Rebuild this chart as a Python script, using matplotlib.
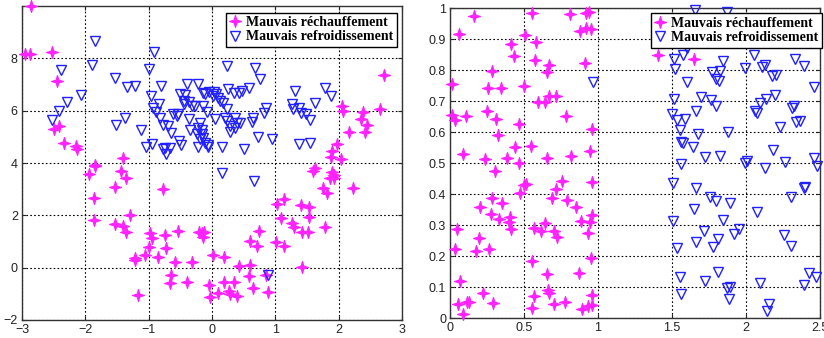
import matplotlib
matplotlib.use("Agg")
import matplotlib.pyplot as plt
from matplotlib.lines import Line2D
from matplotlib.path import Path

# ---------------- data: left panel ----------------
left_hot_x = [-2.86, -2.95, -2.87, -2.52, -2.44, -2.49, -2.41, -2.33, -2.14, -2.13,
              -1.85, -1.84, -1.94, -1.40, -1.44, -1.36, -1.53, -0.78, -1.87, -1.29, -1.87,
              -1.53, -1.41, -1.36, -1.21, -1.22, -1.17, -1.06, -0.99, -0.98, -0.95, -0.86,
              -0.75, -0.73, -0.53, -0.58, -0.64, -0.66, -0.39, -0.32, -0.21, -0.16, -0.13,
              -0.14, 0.02, 0.19, -0.04, -0.03, 0.10, 0.19, 0.29, 0.27, 0.35, 0.40, 0.43,
              0.60, 0.60, 0.59, 0.64, 0.71, 0.74, 0.88, 0.86, 1.01, 1.03, 1.14, 1.09, 1.14,
              1.26, 1.29, 1.40, 1.42, 1.51, 1.53, 1.53, 1.42, 1.78, 1.76, 1.82, 2.23, 1.63,
              1.60, 1.90, 1.92, 1.86, 1.93, 1.98, 1.90, 1.88, 2.03, 2.71, 2.05, 2.07, 2.38,
              2.35, 2.44, 2.42, 2.17, 2.65]
left_hot_y = [10.0, 8.15, 8.15, 8.23, 7.14, 5.31, 5.41, 4.77, 4.64, 4.54,
              3.94, 3.87, 3.58, 4.21, 3.68, 3.42, 3.08, 3.00, 2.66, 2.02, 1.83,
              1.68, 1.58, 1.36, 0.36, 0.29, -1.03, 0.49, 0.78, 1.32, 1.13, 0.42,
              1.26, 0.77, 1.41, 0.21, -0.28, -0.60, -0.56, 0.23, 1.38, 1.32, 1.36,
              1.19, 0.49, 0.42, -0.67, -1.12, -0.96, -0.54, -0.99, -0.90, -0.54, -1.09, 0.08,
              1.00, 0.10, -0.31, -0.79, 0.81, 1.41, -0.92, -0.28, 0.97, 2.44, 2.63, 1.90, 0.83,
              1.71, 1.54, 2.39, 1.35, 1.35, 2.31, 1.94, 0.04, 1.54, 3.04, 2.85, 3.04, 3.81,
              3.68, 3.64, 3.55, 3.42, 3.42, 4.74, 4.45, 4.22, 4.17, 7.37, 6.18, 5.99, 5.95,
              5.69, 5.44, 5.18, 5.19, 6.05]

left_cold_x = [-1.85, -1.90, -2.38, -2.07, -2.29, -2.42, -2.52,
               -1.53, -1.35, -1.21, -1.52, -1.37, -1.12,
               -0.91, -0.99, -0.97, -0.81, -0.83, -0.93, -0.88,
               -1.04, -0.95, -0.82, -0.78, -0.69, -0.65,
               -0.77, -0.74, -0.66, -0.72, -0.52, -0.49,
               -0.61, -0.53, -0.56, -0.40, -0.22,
               -0.51, -0.42, -0.44, -0.37, -0.32, -0.45, -0.37, -0.35,
               -0.27, -0.14, -0.08,
               -0.19, -0.22, -0.16, -0.24, -0.16, -0.14, -0.19, -0.11, -0.06, -0.07, -0.22,
               -0.14, -0.11, -0.04, 0.03, 0.07, 0.02, 0.10, 0.13, 0.17, 0.23,
               0.26, 0.34, 0.42, 0.47, 0.59, 0.23, 0.68, 0.75,
               0.05, 0.21, 0.23, 0.28, 0.36, 0.39, 0.44, 0.36, 0.28,
               0.64, 0.63, 0.85, 0.82, 0.73, 0.94, 0.51, 0.15,
               1.31, 1.26, 1.28, 1.37, 1.40, 1.49, 1.55, 1.63, 1.37, 1.55, 1.79, 1.88,
               0.15, 0.66, 0.88]
left_cold_y = [8.68, 7.76, 7.56, 6.60, 6.35, 5.99, 5.64,
               7.24, 6.90, 6.93, 5.47, 5.73, 5.26,
               8.23, 7.59, 6.56, 6.94, 6.24, 6.12, 5.96,
               4.60, 4.72, 5.73, 5.47, 5.41, 5.15,
               4.52, 4.58, 4.58, 4.36, 4.83, 4.70,
               5.86, 5.86, 5.79, 7.01, 7.01,
               6.63, 6.59, 6.37, 6.33, 6.18, 6.24, 5.67, 5.25,
               6.18, 6.18, 5.95,
               5.54, 5.35, 5.28, 5.09, 5.09, 4.96, 4.90, 4.77, 4.70, 4.62, 4.62,
               6.69, 6.63, 6.73, 6.73, 6.65, 6.56, 6.50, 6.37, 6.31, 6.05,
               6.82, 6.69, 6.69, 6.75, 6.88, 7.72, 7.62, 7.20,
               5.67, 5.73, 5.60, 5.41, 5.73, 5.54, 5.54, 5.35, 5.18,
               5.73, 5.56, 6.12, 5.92, 5.00, 4.90, 4.54, 4.62,
               6.77, 6.24, 6.05, 6.12, 5.92, 5.88, 5.64, 6.28, 4.71, 4.77, 6.88, 6.56,
               3.60, 3.33, -0.28]

# ---------------- data: right panel ----------------
right_hot_x = [0.158, 0.056, 0.011, 0.011, 0.029, 0.108, 0.084, 0.233, 0.255, 0.248,
               0.282, 0.312, 0.323, 0.346, 0.384, 0.411, 0.434, 0.436, 0.463, 0.463,
               0.508, 0.501, 0.553, 0.571, 0.580, 0.547, 0.592, 0.644, 0.716, 0.666,
               0.655, 0.655, 0.671, 0.786, 0.817, 0.813, 0.881, 0.910, 0.919, 0.919,
               0.942, 0.955, 0.960, 0.948, 1.405, 1.653,
               0.305, 0.203, 0.282, 0.350, 0.276, 0.327, 0.406, 0.400, 0.410, 0.474,
               0.497, 0.513, 0.192, 0.176, 0.260, 0.034, 0.045, 0.068, 0.050, 0.084,
               0.113, 0.129, 0.221, 0.289, 0.565, 0.617, 0.644, 0.553, 0.689, 0.716,
               0.757, 0.700, 0.720, 0.790, 0.853, 0.885, 0.933, 0.948, 0.960, 0.960,
               0.953, 0.655, 0.660, 0.666, 0.565, 0.553, 0.700, 0.779, 0.874, 0.892,
               0.933, 0.960, 0.960]
right_hot_y = [0.975, 0.917, 0.756, 0.656, 0.640, 0.654, 0.529, 0.514, 0.742, 0.670,
               0.798, 0.642, 0.591, 0.742, 0.516, 0.884, 0.846, 0.554, 0.626, 0.502,
               0.914, 0.749, 0.986, 0.833, 0.892, 0.557, 0.699, 0.699, 0.718, 0.718,
               0.516, 0.796, 0.817, 0.654, 0.524, 0.982, 0.927, 0.823, 0.935, 0.984,
               0.989, 0.933, 0.611, 0.540, 0.849, 0.835,
               0.475, 0.360, 0.387, 0.371, 0.335, 0.320, 0.328, 0.310, 0.288, 0.403,
               0.430, 0.433, 0.258, 0.217, 0.223, 0.223, 0.287, 0.120, 0.045, 0.013,
               0.054, 0.052, 0.083, 0.048, 0.290, 0.282, 0.309, 0.185, 0.389, 0.416,
               0.443, 0.282, 0.263, 0.382, 0.358, 0.315, 0.274, 0.312, 0.333, 0.439,
               0.196, 0.142, 0.091, 0.081, 0.072, 0.034, 0.046, 0.051, 0.147, 0.030,
               0.040, 0.043, 0.075]

right_cold_x = [1.660, 1.874, 2.484, 0.967, 1.603, 1.513, 1.574, 1.524, 1.603, 1.847,
                1.773, 1.829, 1.800, 1.817, 1.518, 1.700, 1.766, 1.800, 1.664, 1.502,
                1.536, 1.592, 1.554, 1.565, 1.576, 1.642, 1.678, 1.879, 1.565, 1.723,
                1.829, 1.994, 2.055, 2.112, 2.134, 2.175, 2.206, 2.139, 2.197, 2.096,
                2.066, 2.078, 2.231, 2.315, 2.326, 2.344, 2.367, 2.337, 2.398, 2.462,
                1.994, 2.010, 2.134, 2.184, 2.265, 2.462, 2.480,
                1.506, 1.664, 1.757, 1.802, 1.892, 1.652, 1.506, 1.845, 1.716, 1.958,
                1.924, 1.811, 1.664, 1.779, 1.536, 2.078, 2.310, 2.405, 2.398, 2.263,
                2.308, 1.558, 1.565, 1.728, 1.813, 1.874, 1.892, 1.890, 2.100, 2.161,
                2.145, 2.398, 2.427, 2.477]
right_cold_y = [0.995, 0.989, 0.887, 0.763, 0.871, 0.835, 0.849, 0.803, 0.763, 0.831,
                0.796, 0.798, 0.772, 0.766, 0.706, 0.715, 0.704, 0.685, 0.669, 0.659,
                0.640, 0.643, 0.608, 0.570, 0.565, 0.554, 0.595, 0.600, 0.497, 0.519,
                0.524, 0.806, 0.849, 0.812, 0.817, 0.782, 0.785, 0.708, 0.720, 0.694,
                0.669, 0.661, 0.616, 0.677, 0.685, 0.634, 0.638, 0.835, 0.814, 0.745,
                0.500, 0.508, 0.486, 0.543, 0.505, 0.516, 0.492,
                0.435, 0.419, 0.392, 0.378, 0.373, 0.352, 0.315, 0.317, 0.282, 0.287,
                0.271, 0.255, 0.245, 0.229, 0.228, 0.342, 0.392, 0.425, 0.419, 0.269,
                0.234, 0.134, 0.077, 0.120, 0.150, 0.099, 0.102, 0.062, 0.113, 0.046,
                0.022, 0.108, 0.147, 0.132]

legend_labels = ["Mauvais réchauffement", "Mauvais refroidissement"]
left_xticks = [-3, -2, -1, 0, 1, 2, 3]
left_yticks = [-2, 0, 2, 4, 6, 8]
right_xticks = [0, 0.5, 1, 1.5, 2, 2.5]
right_yticks = [0, 0.1, 0.2, 0.3, 0.4, 0.5, 0.6, 0.7, 0.8, 0.9, 1]
right_yticklabels = ["0", "0.1", "0.2", "0.3", "0.4", "0.5", "0.6", "0.7", "0.8", "0.9", "1"]
right_xticklabels = ["0", "0.5", "1", "1.5", "2", "2.5"]

HOT = "#ff22ff"
COLD = "#2020ff"
star = Path.unit_regular_star(4, 0.32)

plt.rcParams["font.family"] = ["Liberation Sans", "DejaVu Sans"]

fig = plt.figure(figsize=(8.24, 3.38), dpi=100)
ax1 = fig.add_axes([22 / 824, 1 - 320 / 338, 380 / 824, 314 / 338])
ax2 = fig.add_axes([450.3 / 824, 1 - 318.3 / 338, 369.2 / 824, 310 / 338])


def style(ax):
    ax.grid(True, color="black", linestyle=(0, (1.5, 2.0)), linewidth=0.8)
    ax.set_axisbelow(True)
    ax.tick_params(direction="in", length=3, top=True, right=True,
                   labelsize=9, colors="#222222", pad=3)
    for s in ax.spines.values():
        s.set_color("#333333")
        s.set_linewidth(1.0)


def draw(ax, hx, hy, cx, cy):
    ax.plot(hx, hy, linestyle="none", marker=star, markersize=8.5,
            markeredgewidth=0.9, color=HOT, clip_on=False, zorder=3)
    ax.plot(cx, cy, linestyle="none", marker="v", markersize=6.5,
            markerfacecolor="none", markeredgecolor=COLD, markeredgewidth=1.0,
            clip_on=False, zorder=3)


draw(ax1, left_hot_x, left_hot_y, left_cold_x, left_cold_y)
ax1.set_xlim(-3, 3)
ax1.set_ylim(-2, 10)
ax1.set_xticks(left_xticks)
ax1.set_yticks(left_yticks)
style(ax1)

draw(ax2, right_hot_x, right_hot_y, right_cold_x, right_cold_y)
ax2.set_xlim(0, 2.5)
ax2.set_ylim(0, 1)
ax2.set_xticks(right_xticks)
ax2.set_xticklabels(right_xticklabels)
ax2.set_yticks(right_yticks)
ax2.set_yticklabels(right_yticklabels)
style(ax2)

handles = [
    Line2D([], [], linestyle="none", marker=star, markersize=8.5, markeredgewidth=0.9, color=HOT),
    Line2D([], [], linestyle="none", marker="v", markersize=6.5, markerfacecolor="none",
           markeredgecolor=COLD, markeredgewidth=1.0),
]
leg_font = {"family": "Liberation Serif", "weight": "bold", "size": 10}
for ax, anchor in ((ax1, (0.987, 0.979)), (ax2, (1.007, 0.984))):
    leg = ax.legend(handles, legend_labels, loc="upper right", bbox_to_anchor=anchor,
                    borderaxespad=0, prop=leg_font, fancybox=False, framealpha=1,
                    edgecolor="black", handlelength=0.8, handletextpad=0.4,
                    borderpad=0.25, labelspacing=0.1)
    leg.get_frame().set_linewidth(1.0)
    leg.set_zorder(5)

fig.savefig("out.png", dpi=100)
